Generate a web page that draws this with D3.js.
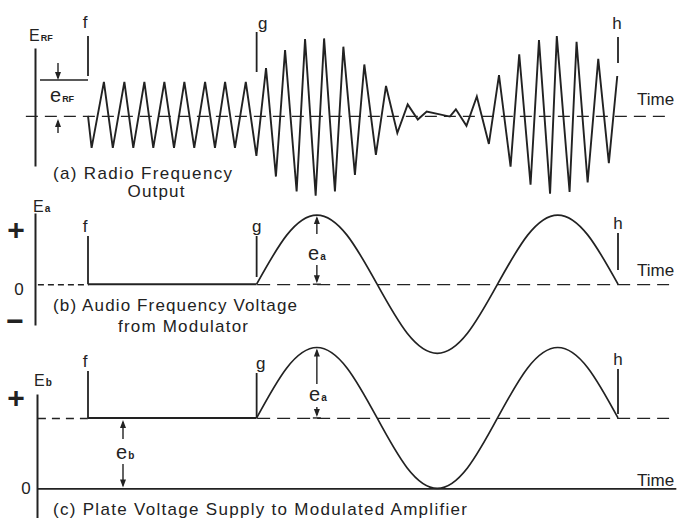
<!DOCTYPE html>
<html>
<head>
<meta charset="utf-8">
<script src="https://cdn.jsdelivr.net/npm/d3@7"></script>
<style>
  html, body { margin: 0; padding: 0; background: #fff; }
  svg { display: block; }
  text { font-family: "Liberation Sans", Arial, sans-serif; fill: #222; }
</style>
</head>
<body>
<svg id="chart" width="678" height="518"></svg>
<script>
// Time in microseconds measured from instant f; one audio cycle = 1000 µs.
const markerNames = ["f", "g", "h"];
const markerTimes = [0, 700, 2200];

// Radio-frequency output: turning points of the carrier (unmodulated e_RF = 100).
const rfTime = [0, 15, 66, 103, 151, 188, 234, 271, 317, 357, 400, 441, 486, 527, 569, 610, 655,
  699, 739, 780, 818, 866, 901, 945, 980, 1025, 1060, 1108, 1147, 1195, 1237, 1284, 1327, 1369, 1406,
  1502, 1527, 1571, 1614, 1664, 1706, 1754, 1790, 1837, 1872, 1918, 1946, 1999, 2028, 2074, 2118, 2162, 2197];
const rfVolts = [0, -97, 103, -97, 103, -97, 103, -97, 103, -97, 103, -97, 103, -97, 103, -97, 103,
  -121, 145, -184, 200, -229, 233, -242, 235, -229, 210, -179, 156, -118, 91, -52, 35, -11, 13,
  -2, 20, -30, 59, -85, 124, -154, 187, -209, 230, -236, 242, -231, 225, -202, 173, -143, 121];

// Audio voltage from the modulator, g to h (peak e_a = 100).
const audioTime = [700, 825, 950, 1075, 1200, 1325, 1450, 1575, 1700, 1825, 1950, 2075, 2200];
const audioVolts = [0, 71, 100, 71, 0, -71, -100, -71, 0, 71, 100, 71, 0];

// Steady plate supply e_b (same units as e_a).
const plateSupply = 100;

const captionA = ["(a) Radio Frequency", "Output"];
const captionB = ["(b) Audio Frequency Voltage", "from Modulator"];
const captionC = ["(c) Plate Voltage Supply to Modulated Amplifier"];

const ink = "#222";
const svg = d3.select("#chart");

const x = d3.scaleLinear().domain([0, 2200]).range([88, 618]);

const yA = d3.scaleLinear().domain([-152, 206]).range([166, 48]);
const yB = d3.scaleLinear().domain([-59, 103]).range([325, 213]);
const yC = d3.scaleLinear().domain([-42, 134]).range([518, 394]);

// ---------- helpers ----------
function timeAxis(g, y, t0, t1, dash, width) {
  const s = x.copy().domain([t0, t1]).range([x(t0), x(t1)]);
  const a = g.append("g").attr("transform", `translate(0,${y})`)
    .call(d3.axisBottom(s).tickValues([]).tickSizeOuter(0));
  a.select(".domain").attr("stroke", ink).attr("stroke-width", width || 1.4)
    .attr("stroke-dasharray", dash || null);
  return a;
}
function valueAxis(g, scale, xpos) {
  const a = g.append("g").attr("transform", `translate(${xpos},0)`)
    .call(d3.axisLeft(scale).tickValues([]).tickSizeOuter(0));
  a.select(".domain").attr("stroke", ink).attr("stroke-width", 2);
}
function vline(g, xp, y1, y2, w) {
  g.append("line").attr("x1", xp).attr("x2", xp).attr("y1", y1).attr("y2", y2)
    .attr("stroke", ink).attr("stroke-width", w || 2);
}
function arrow(g, xp, yFrom, yTo) {
  const dir = yTo > yFrom ? 1 : -1;
  g.append("line").attr("x1", xp).attr("x2", xp).attr("y1", yFrom).attr("y2", yTo - dir * 2)
    .attr("stroke", ink).attr("stroke-width", 1.4);
  g.append("path")
    .attr("d", `M${xp},${yTo} L${xp - 3},${yTo - dir * 8} L${xp + 3},${yTo - dir * 8} Z`)
    .attr("fill", ink);
}
function label(g, txt, xp, yp, size, opts = {}) {
  const t = g.append("text").attr("x", xp).attr("y", yp).attr("font-size", size).text(txt);
  if (opts.anchor) t.attr("text-anchor", opts.anchor);
  if (opts.len) t.attr("textLength", opts.len).attr("lengthAdjust", "spacing");
  if (opts.weight) t.attr("font-weight", opts.weight);
  return t;
}
function subLabel(g, main, sub, xp, yp, size, subSize) {
  const t = g.append("text").attr("x", xp).attr("y", yp).attr("font-size", size);
  t.append("tspan").text(main);
  t.append("tspan").attr("font-size", subSize).attr("font-weight", "bold").attr("dx", 1).text(sub);
}

const line = (ys) => d3.line().x(d => x(d[0])).y(d => ys(d[1]));

// ---------- (a) radio frequency output ----------
const gA = svg.append("g");
valueAxis(gA, yA, 35);
timeAxis(gA, yA(0), -260, 2410, "12,7", 1.3);
gA.append("path")
  .datum(rfTime.map((t, i) => [t, rfVolts[i]]))
  .attr("d", line(yA))
  .attr("fill", "none").attr("stroke", ink).attr("stroke-width", 1.9)
  .attr("stroke-linejoin", "miter");

const tickA = [[36, 76], [32, 72], [37, 63]];
const nudgeA = [-3, 6, -1];
markerTimes.forEach((t, i) => {
  vline(gA, x(t), tickA[i][0], tickA[i][1], 1.8);
  label(gA, markerNames[i], x(t) + nudgeA[i], i === 0 ? 28 : 29, 17, { anchor: "middle" });
});
// carrier amplitude e_RF
gA.append("line").attr("x1", 40).attr("x2", x(0)).attr("y1", 80).attr("y2", 80)
  .attr("stroke", ink).attr("stroke-width", 1.4);
arrow(gA, 58, 63, 80);
arrow(gA, 58, 133, yA(0) + 3);
subLabel(gA, "E", "RF", 29, 41, 16, 9);
subLabel(gA, "e", "RF", 50, 102, 20, 9);
label(gA, "Time", 637, 105, 17);
label(gA, captionA[0], 53, 179, 17, { len: 179 });
label(gA, captionA[1], 156, 197, 17, { anchor: "middle", len: 57 });

// ---------- (b) audio frequency voltage ----------
const gB = svg.append("g");
valueAxis(gB, yB, 35);
timeAxis(gB, yB(0), -210, 0, "6,4", 1.6);
timeAxis(gB, yB(0), 700, 2410, "13,7", 1.3);
gB.append("path").datum([[0, 0], [700, 0]]).attr("d", line(yB))
  .attr("fill", "none").attr("stroke", ink).attr("stroke-width", 1.9);
gB.append("path")
  .datum(audioTime.map((t, i) => [t, audioVolts[i]]))
  .attr("d", line(yB).curve(d3.curveNatural))
  .attr("fill", "none").attr("stroke", ink).attr("stroke-width", 1.7);

const tickB = [[236, yB(0)], [236, 277], [233, 270]];
const nudgeB = [-3, 0, 0];
markerTimes.forEach((t, i) => {
  vline(gB, x(t), tickB[i][0], tickB[i][1], 1.8);
  label(gB, markerNames[i], x(t) + nudgeB[i], tickB[i][0] - 4, 17, { anchor: "middle" });
});
const peakB = audioTime[audioVolts.indexOf(d3.max(audioVolts))];
arrow(gB, x(peakB), 234, yB(100) + 1);
arrow(gB, x(peakB), 265, yB(0) - 1);
gB.append("line").attr("x1", x(peakB) - 4).attr("x2", x(peakB) + 4)
  .attr("y1", yB(0)).attr("y2", yB(0)).attr("stroke", ink).attr("stroke-width", 1.4);
subLabel(gB, "e", "a", 308, 260, 20, 10);
subLabel(gB, "E", "a", 33, 212, 16, 10);
label(gB, "+", 16, 240, 30, { anchor: "middle", weight: "bold" });
label(gB, "0", 19, 295, 17, { anchor: "middle" });
label(gB, "\u2212", 15, 331, 30, { anchor: "middle", weight: "bold" });
label(gB, "Time", 637, 276, 17);
label(gB, captionB[0], 53, 311, 17, { len: 244 });
label(gB, captionB[1], 183, 332, 17, { anchor: "middle", len: 130 });

// ---------- (c) plate voltage supply ----------
const gC = svg.append("g");
valueAxis(gC, yC, 37);
timeAxis(gC, yC(0), -210, 2440, null, 1.8);
timeAxis(gC, yC(plateSupply), -210, 0, "8,6", 1.5);
timeAxis(gC, yC(plateSupply), 700, 2410, "13,7", 1.3);
gC.append("path").datum([[0, plateSupply], [700, plateSupply]]).attr("d", line(yC))
  .attr("fill", "none").attr("stroke", ink).attr("stroke-width", 1.9);
gC.append("path")
  .datum(audioTime.map((t, i) => [t, plateSupply + audioVolts[i]]))
  .attr("d", line(yC).curve(d3.curveNatural))
  .attr("fill", "none").attr("stroke", ink).attr("stroke-width", 1.7);

const tickC = [[371, yC(plateSupply)], [373, yC(plateSupply)], [369, 414]];
const nudgeC = [-3, 4, 0];
markerTimes.forEach((t, i) => {
  vline(gC, x(t), tickC[i][0], tickC[i][1], 1.8);
  label(gC, markerNames[i], x(t) + nudgeC[i], tickC[i][0] - 4, 17, { anchor: "middle" });
});
arrow(gC, x(peakB), 384, yC(plateSupply + 100) + 1);
arrow(gC, x(peakB), 407, yC(plateSupply) - 1);
gC.append("line").attr("x1", x(peakB) - 4).attr("x2", x(peakB) + 4)
  .attr("y1", yC(plateSupply)).attr("y2", yC(plateSupply)).attr("stroke", ink).attr("stroke-width", 1.4);
subLabel(gC, "e", "a", 309, 401, 20, 10);
const ebX = 123;
arrow(gC, ebX, 439, yC(plateSupply) + 2);
arrow(gC, ebX, 464, yC(0) - 1);
subLabel(gC, "e", "b", 116, 459, 20, 10);
subLabel(gC, "E", "b", 34, 386, 16, 10);
label(gC, "+", 16, 408, 30, { anchor: "middle", weight: "bold" });
label(gC, "0", 26, 494, 17, { anchor: "middle" });
label(gC, "Time", 637, 486, 17);
label(gC, captionC[0], 53, 515, 17, { len: 414 });
</script>
</body>
</html>
